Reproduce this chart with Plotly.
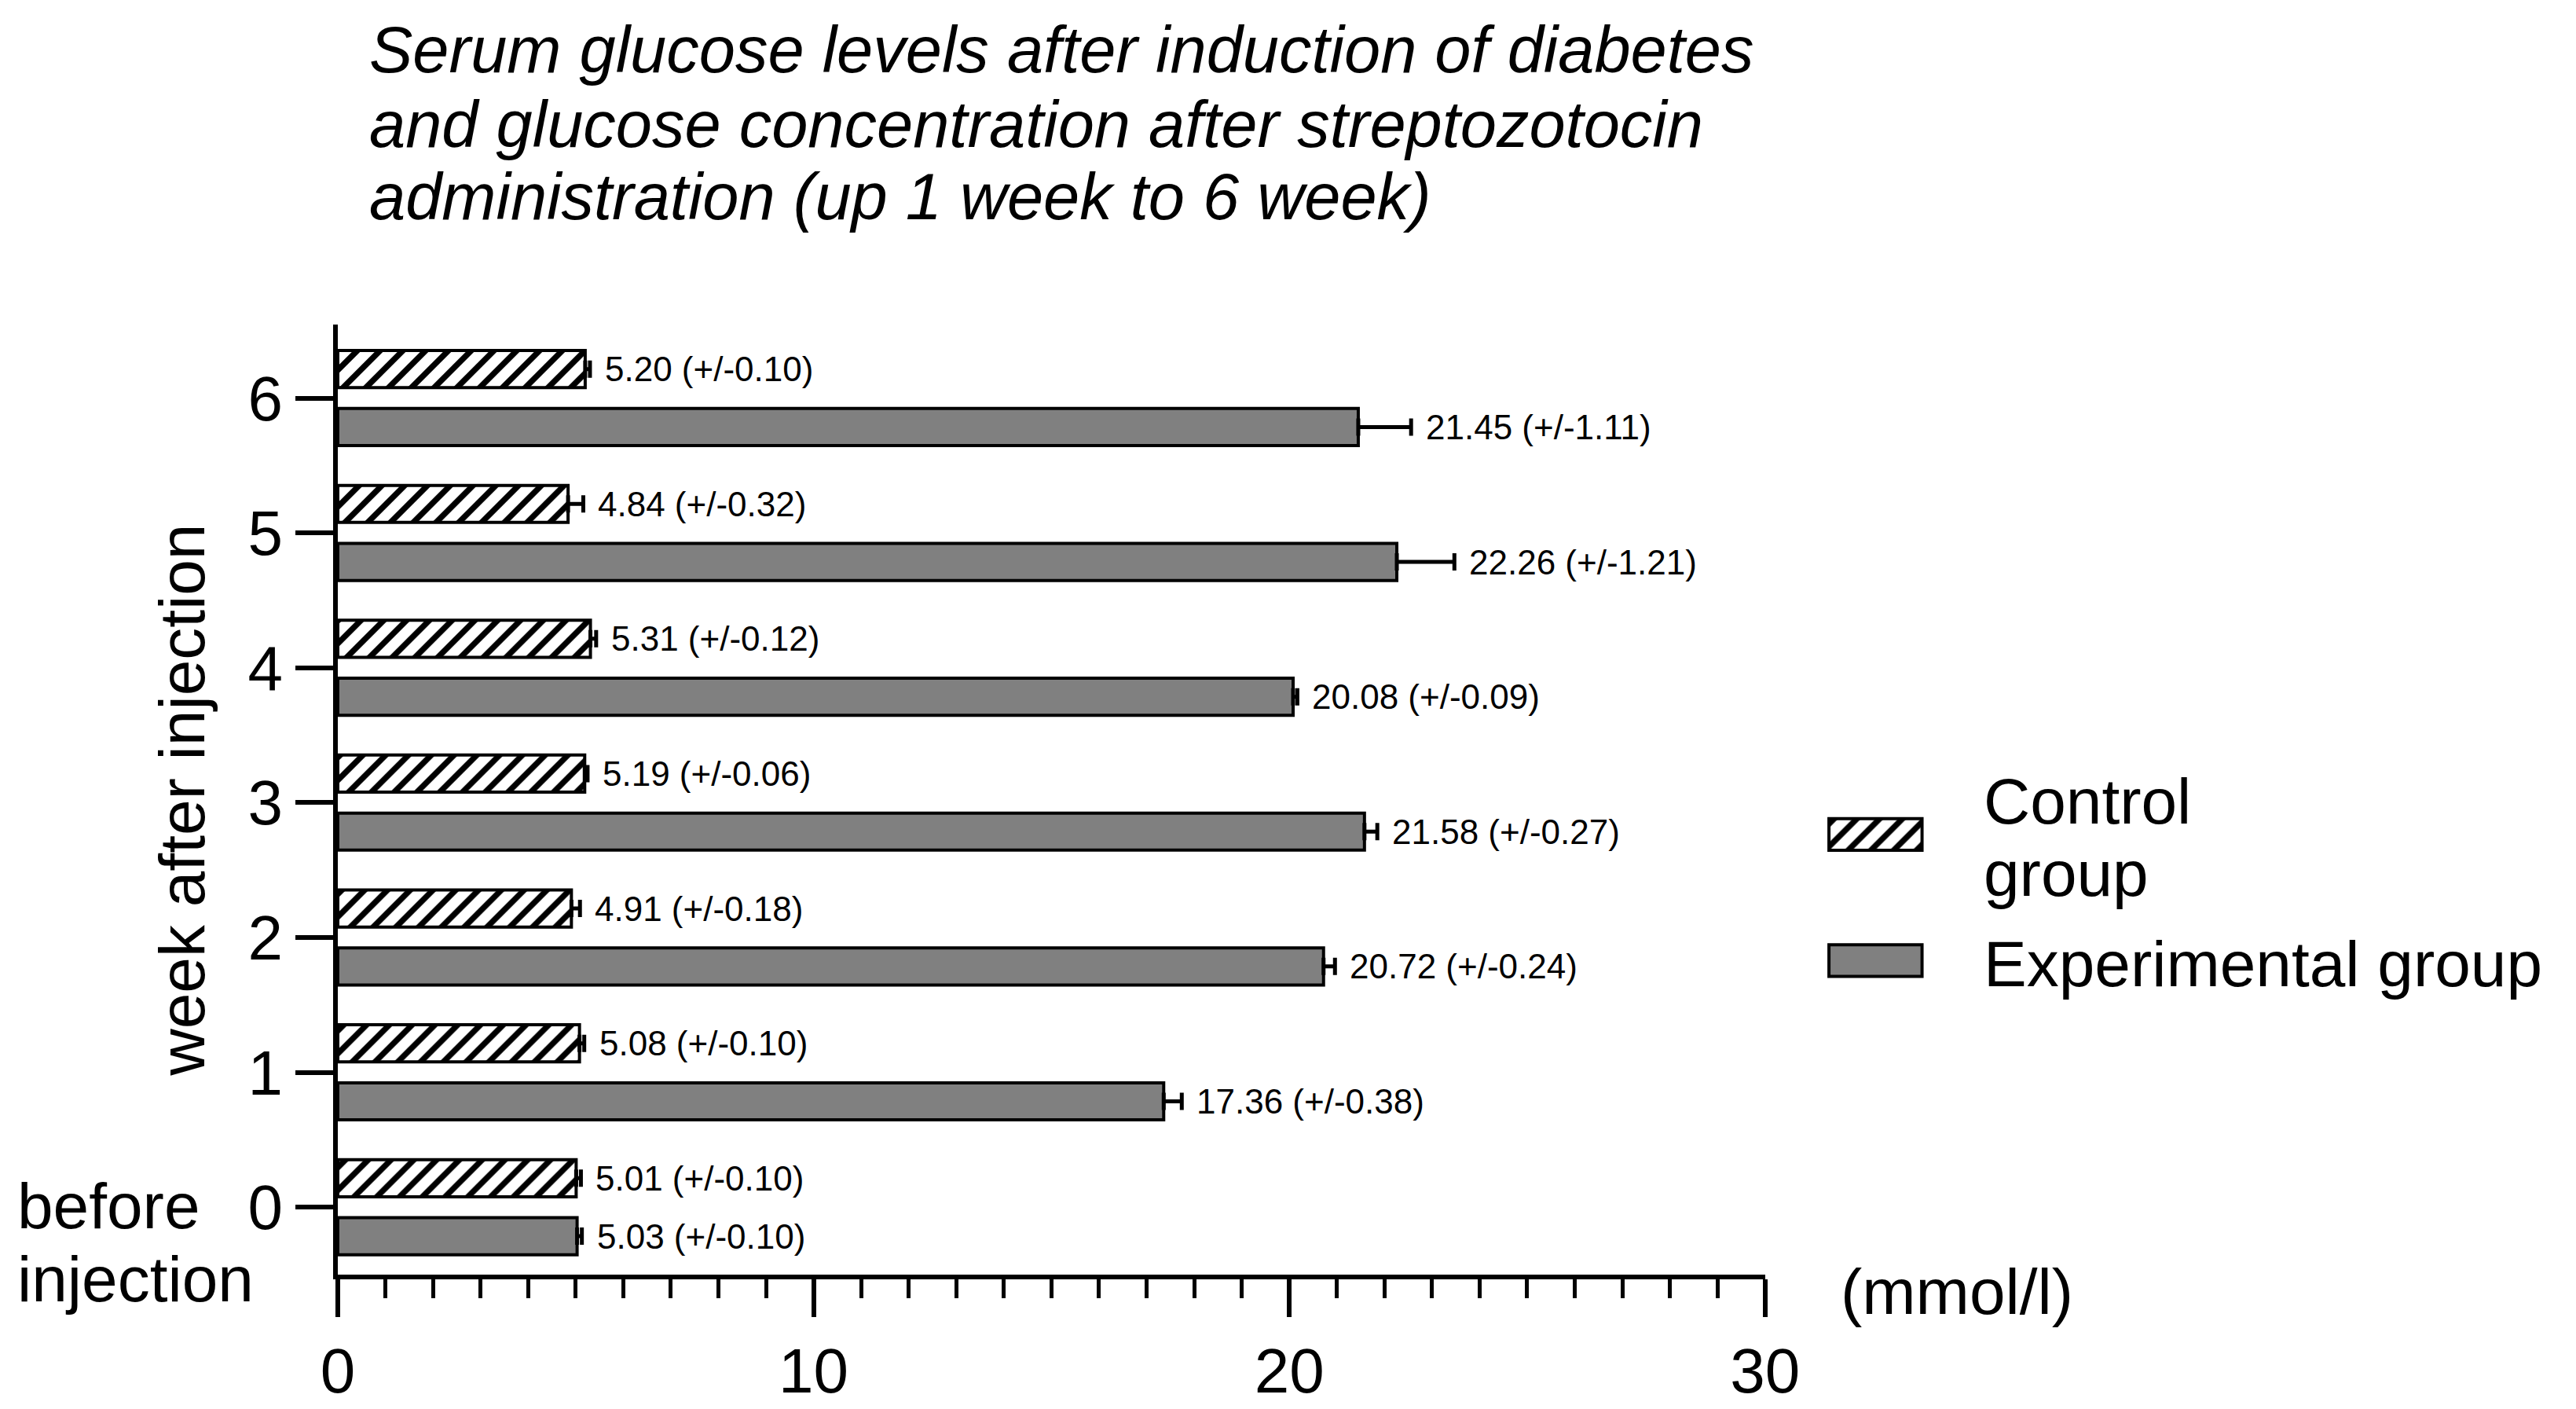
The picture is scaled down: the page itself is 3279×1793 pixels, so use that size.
import plotly.graph_objects as go

# === data
weeks = [0, 1, 2, 3, 4, 5, 6]
control = [5.01, 5.08, 4.91, 5.19, 5.31, 4.84, 5.20]
control_err = [0.10, 0.10, 0.18, 0.06, 0.12, 0.32, 0.10]
experimental = [5.03, 17.36, 20.72, 21.58, 20.08, 22.26, 21.45]
experimental_err = [0.10, 0.38, 0.24, 0.27, 0.09, 1.21, 1.11]
x_ticks = [0, 10, 20, 30]
group_names = ['Control group', 'Experimental group']
title_lines = ["Serum glucose levels after induction of diabetes",
               "and glucose concentration after streptozotocin",
               "administration (up 1 week to 6 week)"]

FONT = "Liberation Sans"
Y_RANGE = [-0.5, 6.545]

hatch = dict(color='white', line=dict(color='black', width=4),
             pattern=dict(shape='/', fgcolor='black', bgcolor='white', fgopacity=1,
                          size=20.5, solidity=0.36))
solid = dict(color='#808080', line=dict(color='black', width=4))

fig = go.Figure()
fig.add_trace(go.Bar(
    y=weeks, x=control, orientation='h', name=group_names[0],
    width=0.275, offset=0.0775, marker=hatch, showlegend=False,
    error_x=dict(type='data', array=control_err, arrayminus=[0] * len(weeks),
                 symmetric=False, color='black', thickness=5, width=11),
))
fig.add_trace(go.Bar(
    y=weeks, x=experimental, orientation='h', name=group_names[1],
    width=0.275, offset=-0.3525, marker=solid, showlegend=False,
    error_x=dict(type='data', array=experimental_err, arrayminus=[0] * len(weeks),
                 symmetric=False, color='black', thickness=5, width=11),
))

# legend keys (drawn on a small side axis so the hatch pattern is reproduced)
fig.add_trace(go.Bar(y=[2.764], x=[1], orientation='h', width=0.235, marker=hatch,
                     xaxis='x2', yaxis='y2', showlegend=False, hoverinfo='skip'))
fig.add_trace(go.Bar(y=[1.829], x=[1], orientation='h', width=0.235, marker=solid,
                     xaxis='x2', yaxis='y2', showlegend=False, hoverinfo='skip'))

# value labels next to error bars
lbl = dict(family=FONT, size=44, color='black')
for w, v, e in zip(weeks, control, control_err):
    fig.add_annotation(x=v + e, y=w + 0.215, text=f"{v:.2f} (+/-{e:.2f})",
                       xanchor='left', yanchor='middle', xshift=17, showarrow=False, font=lbl)
for w, v, e in zip(weeks, experimental, experimental_err):
    fig.add_annotation(x=v + e, y=w - 0.215, text=f"{v:.2f} (+/-{e:.2f})",
                       xanchor='left', yanchor='middle', xshift=17, showarrow=False, font=lbl)

txt = dict(family=FONT, size=82, color='black')
# title, one annotation per line
for yy, line in zip([1.2892, 1.2102, 1.1345], title_lines):
    fig.add_annotation(x=0.0135, y=yy, xref='paper', yref='paper', text=f"<i>{line}</i>",
                       xanchor='left', yanchor='middle', showarrow=False,
                       font=dict(family=FONT, size=83, color='black'))
# legend labels
ctrl_words = group_names[0].split(' ')
for yy, line in zip([0.4984, 0.4226], ctrl_words):
    fig.add_annotation(x=0.7473, y=yy, xref='paper', yref='paper', text=line,
                       xanchor='left', yanchor='middle', showarrow=False, font=txt)
fig.add_annotation(x=0.7473, y=0.3274, xref='paper', yref='paper', text=group_names[1],
                   xanchor='left', yanchor='middle', showarrow=False, font=txt)
# other labels
for yy, line in zip([0.0725, -0.0049], ["before", "injection"]):
    fig.add_annotation(x=-0.1465, y=yy, xref='paper', yref='paper', text=line,
                       xanchor='left', yanchor='middle', showarrow=False, font=txt)
fig.add_annotation(x=0.6824, y=-0.018, xref='paper', yref='paper', text="(mmol/l)",
                   xanchor='left', yanchor='middle', showarrow=False, font=txt)

fig.update_layout(
    width=3279, height=1793, barmode='overlay', showlegend=False,
    plot_bgcolor='white', paper_bgcolor='white',
    margin=dict(l=422, r=20, t=405, b=160),
    xaxis=dict(domain=[0, 0.6486], range=[0, 30], tickvals=x_ticks,
               showline=True, linewidth=6, linecolor='black',
               ticks='outside', ticklen=48, tickwidth=6, tickcolor='black',
               minor=dict(dtick=1, ticks='outside', ticklen=24, tickwidth=5, tickcolor='black'),
               showgrid=False, zeroline=False,
               tickfont=dict(family=FONT, size=80, color='black')),
    yaxis=dict(range=Y_RANGE, tickvals=weeks, showline=True, linewidth=6, linecolor='black',
               ticks='outside', ticklen=48, tickwidth=6, tickcolor='black',
               showgrid=False, zeroline=False,
               tickfont=dict(family=FONT, size=80, color='black'),
               title=dict(text="week after injection", standoff=30, font=txt)),
    xaxis2=dict(domain=[0.6768, 0.7208], range=[-0.02, 1.02], anchor='y2', visible=False),
    yaxis2=dict(domain=[0, 1], range=Y_RANGE, anchor='x2', visible=False),
)

fig.write_html("out.html")
